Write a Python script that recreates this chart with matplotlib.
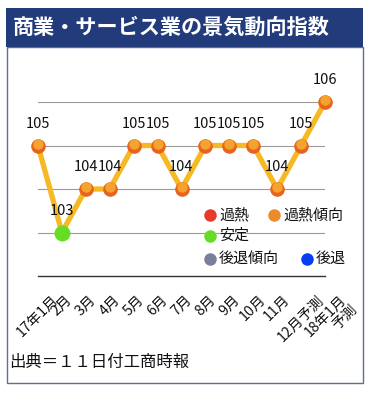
import numpy as np
import matplotlib.pyplot as plt
from matplotlib.patches import Rectangle
from matplotlib.lines import Line2D
import matplotlib.transforms as mtransforms

plt.rcParams['font.family'] = ['Noto Sans CJK JP', 'DejaVu Sans']

title = '商業・サービス業の景気動向指数'
source = '出典＝１１日付工商時報'
months = ['17年1月', '2月', '3月', '4月', '5月', '6月', '7月', '8月', '9月',
          '10月', '11月', '12月予測', '18年1月\n予測']
values = [105, 103, 104, 104, 105, 105, 104, 105, 105, 105, 104, 105, 106]
# 0 = 過熱傾向 (orange), 1 = 安定 (green)
status = [0, 1, 0, 0, 0, 0, 0, 0, 0, 0, 0, 0, 0]

legend_labels = ['過熱', '過熱傾向', '安定', '後退傾向', '後退']
legend_colors = ['#e8392a', '#ee8a2a', '#66dd22', '#7a7f9a', '#0a3cf0']

W, H = 372, 393
fig = plt.figure(figsize=(W / 100, H / 100), dpi=100)
fig.patch.set_facecolor('white')

# title bar and panel border
fig.patches.append(Rectangle((7 / W, 1 - 383 / H), 356 / W, 336 / H, transform=fig.transFigure,
                             facecolor='none', edgecolor='#5d6f8e', linewidth=1.0, zorder=-1))
fig.patches.append(Rectangle((6 / W, 1 - 47 / H), 357 / W, 39 / H, transform=fig.transFigure,
                             facecolor='#213b7b', edgecolor='none', zorder=1))
fig.text(13 / W, 1 - 27 / H, title, color='white', fontsize=15.2, fontweight='bold',
         va='center', ha='left')

ax = fig.add_axes([38 / W, 1 - 276 / H, 287 / W, 174 / H])
ax.set_facecolor('none')
x = np.arange(len(values))
ax.set_xlim(0, len(values) - 1)
ax.set_ylim(102, 106)
ax.set_yticks([103, 104, 105, 106])
ax.yaxis.grid(True, color='#9a9a9a', linewidth=0.8)
ax.set_axisbelow(True)
ax.tick_params(axis='y', length=0, labelleft=False)
for s in ['left', 'right', 'top']:
    ax.spines[s].set_visible(False)
ax.spines['bottom'].set_color('#333333')
ax.spines['bottom'].set_linewidth(1.0)

ax.plot(x, values, color='#f6b823', linewidth=3.8, zorder=3, clip_on=False)
hi = mtransforms.offset_copy(ax.transData, fig=fig, x=0, y=1.2, units='points')
for xi, v, st in zip(x, values, status):
    if st == 1:
        ax.plot(xi, v, 'o', ms=11.5, color='#66dd22', mec='none', zorder=4, clip_on=False)
    else:
        ax.plot(xi, v, 'o', ms=10.5, color='#e8641e', mec='none', zorder=4, clip_on=False)
        ax.plot(xi, v, 'o', ms=7.5, color='#f4a32e', mec='none', zorder=5, clip_on=False,
                transform=hi)
    ax.annotate(str(v), (xi, v), xytext=(0, 10.5), textcoords='offset points',
                ha='center', va='bottom', fontsize=10.5, color='#111111')

ax.set_xticks(x)
ax.set_xticklabels(months, rotation=45, ha='center', va='top', multialignment='right',
                   fontsize=10.3, color='#111111', linespacing=1.0)
ax.tick_params(axis='x', length=0, pad=12)
# the two-line last label sits a little further right in the original
last = ax.get_xticklabels()[-1]
last.set_transform(last.get_transform() +
                   mtransforms.ScaledTranslation(6 / 100, 0, fig.dpi_scale_trans))

# legend, flow layout
legend_pos = [(210, 215), (274, 215), (210, 236), (210, 259), (307, 259)]
for lbl, col, (px, py) in zip(legend_labels, legend_colors, legend_pos):
    fig.add_artist(Line2D([px / W], [1 - py / H], marker='o', ms=9, color=col,
                          mec='none', transform=fig.transFigure))
    fig.text((px + 9) / W, 1 - py / H, lbl, fontsize=10.8, va='center', ha='left',
             color='#111111')

fig.text(9 / W, 1 - 362 / H, source, fontsize=11.8, va='center', ha='left', color='#111111')

fig.savefig('out.png', dpi=100)
